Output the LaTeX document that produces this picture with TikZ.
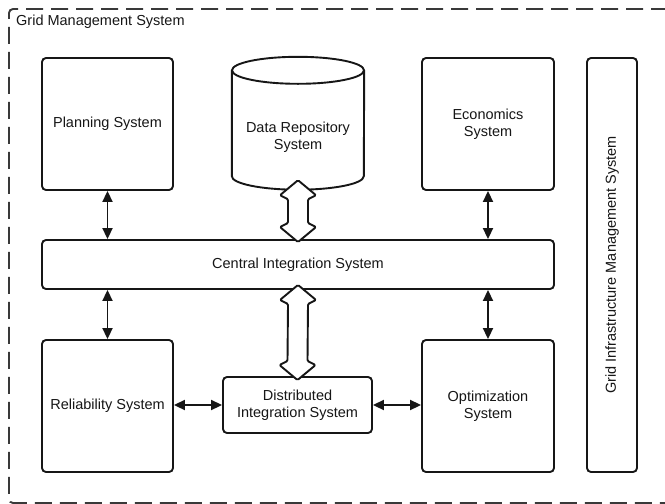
\documentclass[tikz,border=0pt]{standalone}
\usepackage{fontspec}
\setmainfont{Liberation Sans}
\usetikzlibrary{arrows.meta,calc}
\definecolor{ink}{HTML}{161616}
\newcommand\sysfont{\fontsize{14.5}{17}\selectfont}
\tikzset{
  sysbox/.style={draw=ink, line width=1.9pt, rounded corners=4pt, fill=white,
    inner sep=0pt, align=center, text=ink, font=\sysfont},
  label/.style={inner sep=0pt, align=center, text=ink, font=\sysfont},
  link/.style={draw=ink, line width=1.9pt,
    {Triangle[length=11pt,width=10pt]}-{Triangle[length=11pt,width=10pt]}},
  bus/.style={draw=ink, line width=1.9pt, fill=white, rounded corners=1.2pt, line join=round},
  frame/.style={draw=ink!85, line width=1.9pt, dash pattern=on 17pt off 8pt, rounded corners=4pt},
  drum/.style={draw=ink, line width=1.9pt, fill=white},
}
% hollow two-headed arrow between two coordinates (top tip, bottom tip)
\newcommand\hollowarrow[2]{%
  \draw[bus] (#1) -- ($(#1)+(18,15)$) -- ($(#1)+(10,19)$) -- ($(#2)+(10,-19)$)
    -- ($(#2)+(18,-15)$) -- (#2) -- ($(#2)+(-18,-15)$) -- ($(#2)+(-10,-19)$)
    -- ($(#1)+(-10,19)$) -- ($(#1)+(-18,15)$) -- cycle;}
\begin{document}
\begin{tikzpicture}[x=1pt,y=-1pt]
\useasboundingbox (0,0) rectangle (665,504);

% outer system boundary
\draw[frame] (668,9) -- (9,9) -- (9,503) -- (668,503);
\node[label, anchor=base west] (title) at (16,25.4) {Grid Management System};

% subsystem boxes
\node[sysbox, minimum width=131pt, minimum height=132pt] (plan) at (107.5,124) {Planning System};
\node[sysbox, minimum width=132pt, minimum height=132pt] (econ) at (488,124) {Economics\\System};
\node[sysbox, minimum width=512pt, minimum height=49pt] (central) at (298,264.5) {Central Integration System};
\node[sysbox, minimum width=131pt, minimum height=132pt] (rel) at (107.5,406) {Reliability System};
\node[sysbox, minimum width=132pt, minimum height=132pt] (opt) at (488,406) {Optimization\\System};
\node[sysbox, minimum width=149pt, minimum height=56pt] (dist) at (297.5,405) {Distributed\\Integration System};
\node[sysbox, minimum width=50pt, minimum height=414pt] (gims) at (612,265) {};
\node[label, rotate=90] (gimstext) at (gims.center) {Grid Infrastructure Management System};

% data repository drum
\node[minimum width=132pt, minimum height=105.5pt, inner sep=0pt] (repo) at (298,123.25) {};
\draw[drum] (repo.north west) -- (repo.south west)
  arc[start angle=180, end angle=0, x radius=66, y radius=13.5] -- (repo.north east);
\draw[drum] (repo.north) ellipse [x radius=66, y radius=13.5];
\node[label] (repotext) at (298,137) {Data Repository\\System};

% plain two-way links
\draw[link] (plan.south) -- (plan.south |- central.north);
\draw[link] (econ.south) -- (econ.south |- central.north);
\draw[link] (rel.north |- central.south) -- (rel.north);
\draw[link] (opt.north |- central.south) -- (opt.north);
\draw[link] (dist.west -| rel.east) -- (dist.west);
\draw[link] (dist.east) -- (dist.east -| opt.west);

% hollow data buses
\coordinate (busAtop) at ($(repo.south)+(0,4)$);
\coordinate (busAbot) at ($(central.north)+(0,3)$);
\coordinate (busBtop) at ($(central.south)+(0,-5)$);
\coordinate (busBbot) at ($(dist.north)+(0,4)$);
\hollowarrow{busAtop}{busAbot}
\hollowarrow{busBtop}{busBbot}
\end{tikzpicture}
\end{document}
